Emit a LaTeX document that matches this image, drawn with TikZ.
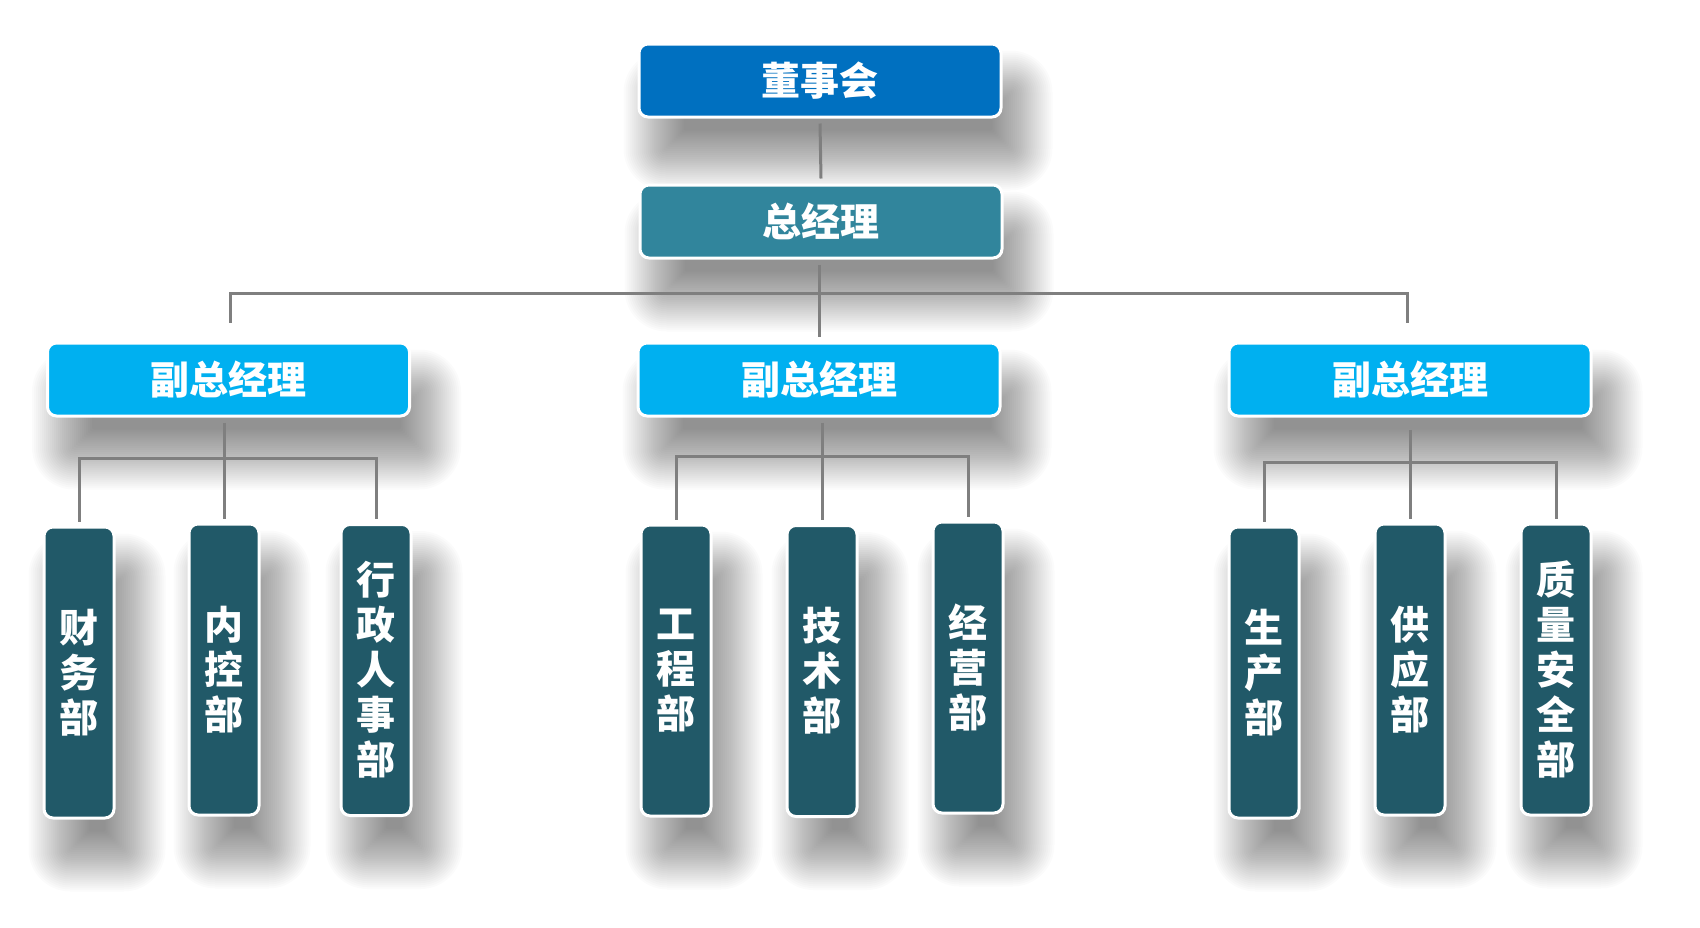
\documentclass[tikz,border=0pt]{standalone}
\usepackage{fontspec}
\newfontfamily\cjk{Noto Sans CJK SC}
\usetikzlibrary{calc}
\definecolor{cBoard}{HTML}{0070C0}
\definecolor{cGM}{HTML}{31859C}
\definecolor{cVP}{HTML}{00B0F0}
\definecolor{cDept}{HTML}{215968}
\definecolor{cLine}{HTML}{7F7F7F}
\pgfdeclarelayer{paper}
\pgfdeclarelayer{shade}
\pgfsetlayers{paper,shade,main}
\tikzset{
  hbox/.style={rounded corners=9pt, draw=white, line width=3pt, minimum width=362pt, minimum height=73pt, inner sep=0pt, text=white, font=\cjk\bfseries\fontsize{39}{45}\selectfont},
  vbox/.style={rounded corners=9pt, draw=white, line width=3pt, fill=cDept, minimum width=70pt, minimum height=291pt, inner sep=0pt, text=white, align=center, font=\cjk\bfseries\fontsize{39}{45}\selectfont},
  conn/.style={draw=cLine, line width=3pt},
  shadelayer/.style={fill=black, opacity=0.016}
}
\newcommand\mkshade[1]{%
  \foreach \k in {0,...,30}{%
    \pgfmathsetmacro\tt{-32+2*\k}%
    \pgfmathsetmacro\rr{max(2,10-\tt)}%
    \fill[shadelayer, rounded corners=\rr pt]
      ($(#1.north west)+(18+\tt,40+\tt)$) rectangle ($(#1.south east)+(18-\tt,40-\tt)$);
  }%
}
\begin{document}
\begin{tikzpicture}[x=1pt,y=-1pt]
\begin{pgfonlayer}{paper}
\fill[white] (0,0) rectangle (1700,927);
\end{pgfonlayer}
\useasboundingbox (0,0) rectangle (1700,927);

% top levels
\node[hbox, fill=cBoard] (board) at (820,80.5) {董事会};
\node[hbox, fill=cGM] (gm) at (821,221.5) {总经理};

% vice presidents
\node[hbox, fill=cVP] (vp1) at (228.5,379.5) {副总经理};
\node[hbox, fill=cVP] (vp2) at (819,379.5) {副总经理};
\node[hbox, fill=cVP] (vp3) at (1410,379.5) {副总经理};

% departments
\node[vbox] (d11) at (79,672.5) {财\\务\\部};
\node[vbox] (d12) at (224,669.5) {内\\控\\部};
\node[vbox] (d13) at (376,670) {行\\政\\人\\事\\部};
\node[vbox] (d21) at (676,670.5) {工\\程\\部};
\node[vbox] (d22) at (822,671) {技\\术\\部};
\node[vbox] (d23) at (968,667.5) {经\\营\\部};
\node[vbox] (d31) at (1264,672.5) {生\\产\\部};
\node[vbox] (d32) at (1410,669.5) {供\\应\\部};
\node[vbox] (d33) at (1556,669.5) {质\\量\\安\\全\\部};

% soft shadows
\begin{pgfonlayer}{shade}
\foreach \n in {board,gm,vp1,vp2,vp3,d11,d12,d13,d21,d22,d23,d31,d32,d33}{\mkshade{\n}}
\end{pgfonlayer}

% connectors
\coordinate (bus) at (819,293);
\coordinate (sb1) at (224,458);
\coordinate (sb2) at (822,456);
\coordinate (sb3) at (1410,462);

\draw[conn] ($(board.south)+(0,5)$) -- ($(gm.north)+(0,-5)$);
\draw[conn] ($(gm.south)+(-2,5)$) -- ($(vp2.north)+(0,-5)$);
\draw[conn] ($(vp1.north)+(1.5,-19)$) |- (bus) -| ($(vp3.north)+(-3,-19)$);

\draw[conn] ($(vp1.south -| d12.north)+(0,5)$) -- ($(d12.north)+(0,-4)$);
\draw[conn] ($(d11.north)+(0,-4)$) |- (sb1) -| ($(d13.north)+(0,-4)$);

\draw[conn] ($(vp2.south -| d22.north)+(0,5)$) -- ($(d22.north)+(0,-4)$);
\draw[conn] ($(d21.north)+(0,-4)$) |- (sb2) -| ($(d23.north)+(0,-4)$);

\draw[conn] ($(vp3.south -| d32.north)+(0,12)$) -- ($(d32.north)+(0,-4)$);
\draw[conn] ($(d31.north)+(0,-4)$) |- (sb3) -| ($(d33.north)+(0,-4)$);
\end{tikzpicture}
\end{document}
